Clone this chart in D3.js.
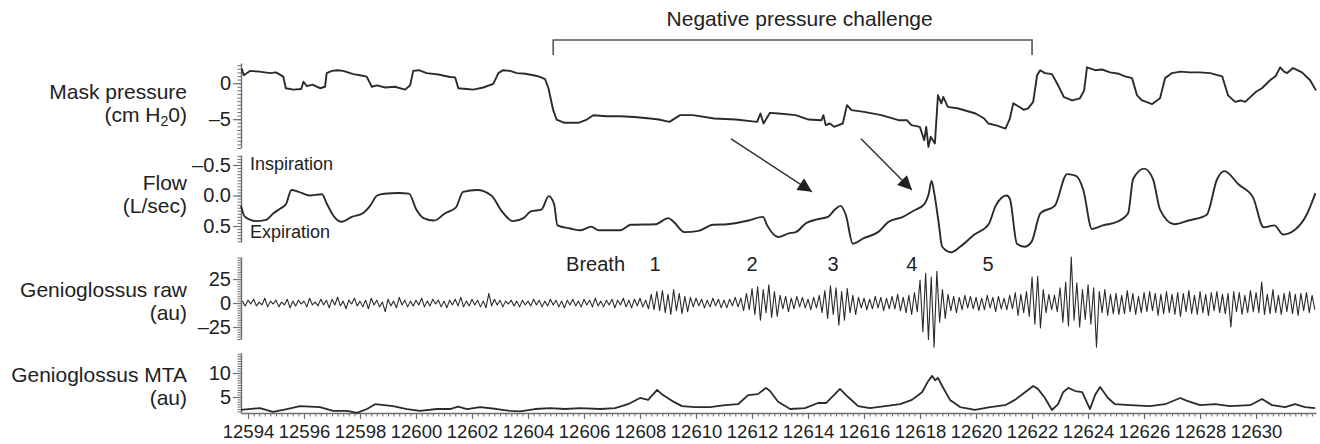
<!DOCTYPE html>
<html><head><meta charset="utf-8">
<script src="https://cdn.jsdelivr.net/npm/d3@7"></script>
<style>
body{margin:0;background:#fff}
svg text{font-family:"Liberation Sans",Arial,Helvetica,sans-serif;fill:#222}
</style>
</head><body>
<svg id="c" width="1320" height="444"></svg>
<script>
// ---------------- DATA ----------------
const xTickLabels = [12594,12596,12598,12600,12602,12604,12606,12608,12610,12612,12614,12616,12618,12620,12622,12624,12626,12628,12630];

const pressureTime = [12593.78,12593.85,12594.07,12594.4,12594.79,12595.0,12595.26,12595.35,12595.62,12595.9,12595.98,12596.1,12596.3,12596.57,12596.75,12596.81,12597.0,12597.2,12597.4,12597.76,12598.0,12598.24,12598.42,12598.6,12598.9,12599.25,12599.61,12599.79,12599.9,12600.1,12600.38,12600.8,12601.21,12601.4,12601.51,12601.8,12602.05,12602.4,12602.76,12602.94,12603.1,12603.36,12603.6,12603.9,12604.19,12604.4,12604.61,12604.73,12604.9,12605.02,12605.3,12605.8,12606.1,12606.33,12606.8,12607.3,12607.8,12608.36,12608.67,12609.05,12609.43,12609.89,12610.65,12611.42,12612.18,12612.3,12612.41,12612.64,12612.95,12613.56,12614.02,12614.48,12614.55,12614.63,12614.78,12614.93,12615.24,12615.39,12615.55,12616.0,12616.62,12617.23,12617.53,12617.69,12617.99,12618.15,12618.22,12618.3,12618.38,12618.53,12618.64,12618.76,12618.83,12618.99,12619.37,12619.98,12620.29,12620.44,12620.75,12621.05,12621.2,12621.33,12621.51,12621.7,12621.86,12622.04,12622.18,12622.29,12622.46,12622.71,12622.93,12623.14,12623.43,12623.71,12623.86,12623.96,12624.25,12624.5,12624.79,12625.1,12625.32,12625.57,12625.75,12625.93,12626.29,12626.57,12626.75,12627.0,12627.3,12627.64,12628.0,12628.36,12628.79,12629.0,12629.25,12629.45,12629.61,12629.86,12630.0,12630.21,12630.5,12630.7,12630.86,12631.0,12631.11,12631.32,12631.64,12631.93,12632.14];
const pressureValue = [2.0,1.1,1.7,1.6,1.4,1.5,0.9,-0.7,-0.9,-0.8,0.2,-0.4,-0.2,-0.7,-0.5,1.4,1.7,1.8,1.7,1.25,1.1,0.9,-0.5,-0.3,-0.6,-0.5,-0.9,-0.3,1.7,1.8,1.4,1.2,0.85,0.8,-0.7,-0.8,-0.9,-0.6,-0.1,1.4,1.8,1.7,1.4,1.3,1.1,0.9,0.55,-0.7,-3.75,-5.05,-5.5,-5.5,-5.05,-4.45,-4.6,-4.6,-4.7,-4.9,-5.05,-5.37,-4.44,-4.44,-4.91,-5.05,-5.37,-4.21,-5.6,-4.12,-4.21,-4.44,-5.05,-5.14,-4.44,-5.83,-5.6,-6.06,-5.6,-3.05,-3.75,-3.98,-4.44,-5.14,-5.14,-5.83,-6.06,-7.92,-6.06,-8.84,-7.45,-8.38,-1.67,-2.82,-1.9,-3.29,-3.52,-4.21,-4.91,-5.6,-5.9,-6.3,-5.0,-2.8,-3.2,-3.7,-3.5,-2.6,1.1,1.8,1.4,1.25,-0.3,-1.95,-2.4,-2.1,-1.0,2.2,1.8,1.9,1.5,1.3,0.95,0.7,-1.7,-2.4,-2.9,-2.1,0.7,1.4,1.6,1.5,1.5,1.4,0.95,-1.7,-2.6,-2.4,-2.6,-1.7,-1.2,-0.7,0.4,1.0,2.2,1.6,1.4,2.1,1.5,0.4,-1.0];

const flowTime = [12593.75,12593.89,12594.28,12594.64,12594.91,12595.17,12595.36,12595.55,12595.81,12596.19,12596.64,12596.82,12597.08,12597.34,12597.71,12598.1,12598.36,12598.61,12598.87,12599.38,12599.75,12600.01,12600.27,12600.65,12601.04,12601.42,12601.68,12602.18,12602.69,12603.07,12603.46,12603.84,12604.1,12604.48,12604.74,12604.93,12605.05,12605.5,12605.88,12606.26,12606.52,12607.29,12607.67,12608.56,12609.01,12609.2,12609.58,12610.09,12610.6,12611.11,12611.88,12612.39,12612.54,12612.93,12613.31,12613.56,12613.94,12614.32,12614.71,12614.96,12615.16,12615.35,12615.6,12615.99,12616.5,12616.88,12617.39,12617.77,12618.15,12618.31,12618.41,12618.51,12618.66,12618.79,12619.11,12619.43,12619.94,12620.45,12620.7,12621.09,12621.21,12621.46,12621.73,12621.98,12622.3,12622.81,12623.25,12623.57,12623.83,12624.14,12624.53,12625.04,12625.43,12625.61,12626.0,12626.32,12626.57,12627.08,12627.59,12628.23,12628.61,12628.87,12629.38,12629.89,12630.27,12630.65,12630.97,12631.42,12631.8,12632.12];
const flowValue = [0.17,0.35,0.42,0.40,0.29,0.21,0.14,-0.09,-0.06,0.0,-0.02,0.14,0.35,0.43,0.35,0.29,0.17,0.0,-0.03,-0.04,-0.03,0.23,0.37,0.41,0.29,0.20,-0.06,-0.09,0.0,0.26,0.42,0.37,0.26,0.23,0.01,0.14,0.49,0.54,0.57,0.51,0.57,0.57,0.48,0.47,0.37,0.43,0.60,0.58,0.48,0.47,0.41,0.35,0.49,0.68,0.62,0.60,0.45,0.39,0.35,0.23,0.17,0.32,0.79,0.70,0.60,0.43,0.35,0.25,0.14,-0.03,-0.24,-0.03,0.43,0.84,0.93,0.84,0.64,0.47,0.17,0.0,0.06,0.79,0.84,0.76,0.29,0.17,-0.35,-0.32,-0.09,0.55,0.49,0.43,0.29,-0.27,-0.44,-0.27,0.23,0.47,0.41,0.32,-0.27,-0.40,-0.18,0.03,0.52,0.49,0.64,0.55,0.32,-0.04];

const rawStart = 12593.8, rawStep = 0.1;
const rawValues = [
 2,-3,
 3,-1,4,-3,1,-2,5,-4,2,-1,
 3,-4,1,-2,4,-5,2,-3,3,-1,
 2,-4,5,-2,1,-3,4,-2,3,-5,
 4,-2,6,-3,2,-6,3,-1,5,-3,
 2,-4,3,-6,5,-2,3,-4,1,-9,
 4,-3,2,-5,6,-2,3,-4,2,-3,
 3,-2,5,-4,2,-3,4,-1,3,-4,
 2,-5,3,-2,4,-3,6,-4,2,-3,
 4,-2,3,-4,2,-5,10,-3,4,-2,
 3,-4,2,-1,3,-3,2,-4,3,-2,
 2,-3,4,-2,3,-4,2,-3,4,-2,
 3,-4,2,-5,3,-2,4,-3,2,-4,
 4,-2,3,-4,5,-3,2,-4,3,-2,
 4,-5,3,-2,5,-4,3,-5,4,-3,
 5,-4,3,-6,9,-7,12,-8,13,-10,
 9,-12,14,-8,10,-11,7,-9,6,-4,
 5,-3,4,-5,3,-4,5,-3,4,-5,
 3,-5,4,-3,6,-4,5,-8,10,-7,
 15,-12,17,-18,14,-10,19,-15,12,-14,
 8,-6,7,-9,5,-6,7,-4,6,-5,
 4,-7,6,-5,8,-10,13,-16,18,-12,
 16,-23,12,-18,15,-10,8,-12,6,-5,
 5,-7,4,-6,7,-5,6,-8,5,-6,
 7,-6,9,-8,6,-10,8,-12,11,-9,
 24,-30,31,-38,27,-46,33,-20,14,-16,
 9,-8,7,-10,6,-7,8,-5,7,-6,
 6,-8,5,-7,8,-5,6,-9,7,-6,
 5,-7,8,-6,11,-13,9,-10,12,-14,
 27,-22,28,-26,14,-10,9,-7,8,-9,
 16,-20,22,-24,48,-18,21,-25,14,-17,
 19,-22,16,-46,12,-10,14,-13,9,-11,
 10,-12,8,-11,13,-9,10,-12,7,-10,
 11,-9,12,-8,10,-13,9,-11,12,-10,
 9,-12,11,-14,10,-9,13,-11,8,-12,
 12,-10,9,-13,11,-8,12,-10,9,-11,
 10,-25,12,-9,11,-12,8,-10,13,-9,
 11,-10,22,-12,9,-11,14,-10,8,-12,
 10,-9,12,-11,9,-13,10,-8,11,-10,
 8,-7];

const mtaTime = [12593.75,12594.43,12594.89,12595.39,12595.86,12596.57,12597.04,12597.54,12597.89,12598.25,12598.54,12599.18,12599.68,12600.14,12600.75,12601.21,12601.5,12601.82,12602.29,12602.89,12603.36,12603.71,12604.25,12604.79,12605.32,12605.86,12606.57,12607.11,12607.57,12608.0,12608.29,12608.61,12608.82,12609.14,12609.5,12609.96,12610.5,12611.04,12611.5,12611.86,12612.21,12612.5,12612.64,12612.93,12613.36,12613.89,12614.36,12614.64,12614.96,12615.14,12615.43,12615.79,12616.21,12616.75,12617.29,12617.71,12618.07,12618.29,12618.43,12618.54,12618.64,12618.79,12619.07,12619.43,12619.96,12620.5,12621.04,12621.39,12621.75,12622.04,12622.21,12622.46,12622.71,12622.93,12623.11,12623.29,12623.54,12623.79,12624.07,12624.25,12624.43,12624.71,12624.96,12625.5,12626.21,12626.75,12627.29,12627.54,12628.0,12628.54,12629.07,12629.79,12630.21,12630.57,12631.04,12631.39,12631.75,12632.11];
const mtaValue = [2.3,2.7,1.9,2.5,3.1,2.9,2.1,2.1,1.7,2.5,3.5,3.1,2.5,2.1,2.5,2.5,3.0,2.5,2.9,2.5,2.1,2.0,2.5,2.7,2.5,2.7,2.5,2.7,3.5,4.8,4.4,6.5,5.4,4.2,3.1,2.9,2.9,3.3,3.5,5.4,5.6,6.9,6.25,4.0,2.5,2.7,3.75,3.75,5.6,6.7,5.0,3.1,2.7,3.1,3.5,4.4,6.0,8.3,9.4,8.5,9.0,7.3,4.4,2.9,2.3,2.9,3.3,4.4,6.0,7.3,6.7,4.8,2.3,3.5,6.0,6.9,6.25,6.0,2.5,5.4,7.1,4.8,3.5,3.3,3.1,3.5,4.8,4.2,3.3,3.5,3.1,3.3,4.6,3.3,2.9,3.5,2.9,2.7];

const panelLabels = [["Mask pressure","(cm H","2","0)"],["Flow","(L/sec)"],["Genioglossus raw","(au)"],["Genioglossus MTA","(au)"]];
const breathLabelTime = [12608.54,12612.0,12614.89,12617.71,12620.43];
const breathLabels = ["1","2","3","4","5"];
const breathWordTime = 12605.36;
const challengeSpan = [12604.9,12622.0];
const arrows = [[12611.25,-0.93,12614.14,-0.06],[12615.89,-0.93,12617.71,-0.09]];

// ---------------- CHART ----------------
const svg = d3.select("#c");
const ink = "#2b2b2b", axisCol = "#6e6e6e";
const x = d3.scaleLinear().domain([12593.75,12632.14]).range([241,1316]);
const yP = d3.scaleLinear().domain([2.8,-9]).range([63,148]);
const yF = d3.scaleLinear().domain([-0.664,0.762]).range([155,242]);
const yR = d3.scaleLinear().domain([48,-37.5]).range([257,339]);
const yM = d3.scaleLinear().domain([14.17,1.67]).range([353,413]);
const fmt = d => d < 0 ? "\u2013" + Math.abs(d) : String(d);
const fmtF = d => d < 0 ? "\u2013" + Math.abs(d).toFixed(1) : d.toFixed(1);

function yAxis(scale, major, minorStep, f){
  const [a,b] = scale.domain();
  const lo = Math.min(a,b), hi = Math.max(a,b);
  const minor = d3.range(Math.ceil(lo/minorStep)*minorStep, hi, minorStep);
  const gm = svg.append("g").attr("transform","translate(241,0)")
    .call(d3.axisLeft(scale).tickValues(minor).tickSize(3.5).tickSizeOuter(0).tickFormat(""));
  gm.select(".domain").attr("stroke",axisCol).attr("stroke-width",1.4);
  gm.selectAll(".tick line").attr("stroke",axisCol);
  const g = svg.append("g").attr("transform","translate(241,0)")
    .call(d3.axisLeft(scale).tickValues(major).tickSize(8).tickSizeOuter(0).tickPadding(2).tickFormat(f));
  g.select(".domain").remove();
  g.selectAll(".tick line").attr("stroke",axisCol).attr("stroke-width",1.2);
  g.selectAll(".tick text").attr("font-size",20).attr("fill","#222")
    .style("font-family",'"Liberation Sans",Arial,sans-serif');
}
yAxis(yP,[0,-5],0.5,fmt);
yAxis(yF,[-0.5,0,0.5],0.05,fmtF);
yAxis(yR,[25,0,-25],2.5,fmt);
yAxis(yM,[10,5],0.5,fmt);

// x axis
const xMinor = d3.range(12594, 12632.1, 0.2);
const gxm = svg.append("g").attr("transform","translate(0,413)")
  .call(d3.axisBottom(x).tickValues(xMinor).tickSize(3.5).tickSizeOuter(0).tickFormat(""));
gxm.select(".domain").attr("stroke",axisCol).attr("stroke-width",1.4);
gxm.selectAll(".tick line").attr("stroke",axisCol);
const gx = svg.append("g").attr("transform","translate(0,413)")
  .call(d3.axisBottom(x).tickValues(xTickLabels).tickSize(6).tickSizeOuter(0).tickPadding(6).tickFormat(d=>String(d)));
gx.select(".domain").remove();
gx.selectAll(".tick line").attr("stroke",axisCol).attr("stroke-width",1.2);
gx.selectAll(".tick text").attr("font-size",18.5).attr("fill","#222")
  .style("font-family",'"Liberation Sans",Arial,sans-serif');

// traces
function trace(ts, vs, y, w, curve){
  const line = d3.line().x(d=>x(d[0])).y(d=>y(d[1])).curve(curve || d3.curveLinear);
  svg.append("path").datum(ts.map((t,i)=>[t,vs[i]]))
    .attr("d",line).attr("fill","none").attr("stroke",ink)
    .attr("stroke-width",w).attr("stroke-linejoin","round");
}
trace(pressureTime, pressureValue, yP, 1.9);
trace(flowTime, flowValue, yF, 1.9, d3.curveMonotoneX);
trace(rawValues.map((v,i)=>rawStart+i*rawStep), rawValues, yR, 1.1);
trace(mtaTime, mtaValue, yM, 1.8);

// panel labels
const labelBase = [99,190,297,382];
panelLabels.forEach((lab,i)=>{
  svg.append("text").attr("x",187).attr("y",labelBase[i]).attr("text-anchor","end")
    .attr("font-size",21).text(lab[0]);
  const t2 = svg.append("text").attr("x",187).attr("y",labelBase[i]+23).attr("text-anchor","end").attr("font-size",21);
  if(lab.length>2){
    t2.append("tspan").text(lab[1]);
    t2.append("tspan").attr("font-size",14).attr("dy",4).text(lab[2]);
    t2.append("tspan").attr("dy",-4).text(lab[3]);
  } else t2.text(lab[1]);
});

// flow annotations
svg.append("text").attr("x",250).attr("y",170).attr("font-size",18).text("Inspiration");
svg.append("text").attr("x",250).attr("y",238).attr("font-size",18).text("Expiration");

// breath labels
svg.append("text").attr("x",x(breathWordTime)).attr("y",271).attr("font-size",20).text("Breath");
svg.selectAll("text.br").data(breathLabels).enter().append("text").attr("class","br")
  .attr("x",(d,i)=>x(breathLabelTime[i])).attr("y",271).attr("text-anchor","middle")
  .attr("font-size",20).text(d=>d);

// challenge bracket
const bx0 = x(challengeSpan[0]), bx1 = x(challengeSpan[1]);
svg.append("path").attr("d",`M${bx0},55V40H${bx1}V55`).attr("fill","none")
  .attr("stroke","#555").attr("stroke-width",1.6);
svg.append("text").attr("x",(bx0+bx1)/2+7).attr("y",26).attr("text-anchor","middle")
  .attr("font-size",21).text("Negative pressure challenge");

// arrows
svg.append("defs").append("marker").attr("id","ah").attr("viewBox","0 0 10 10")
  .attr("refX",10).attr("refY",5).attr("markerWidth",18).attr("markerHeight",14)
  .attr("markerUnits","userSpaceOnUse").attr("orient","auto")
  .append("path").attr("d","M0,0L10,5L0,10z").attr("fill","#222");
arrows.forEach(a=>{
  svg.append("line").attr("x1",x(a[0])).attr("y1",yF(a[1])).attr("x2",x(a[2])).attr("y2",yF(a[3]))
    .attr("stroke","#333").attr("stroke-width",1.5).attr("marker-end","url(#ah)");
});
</script>
</body></html>
